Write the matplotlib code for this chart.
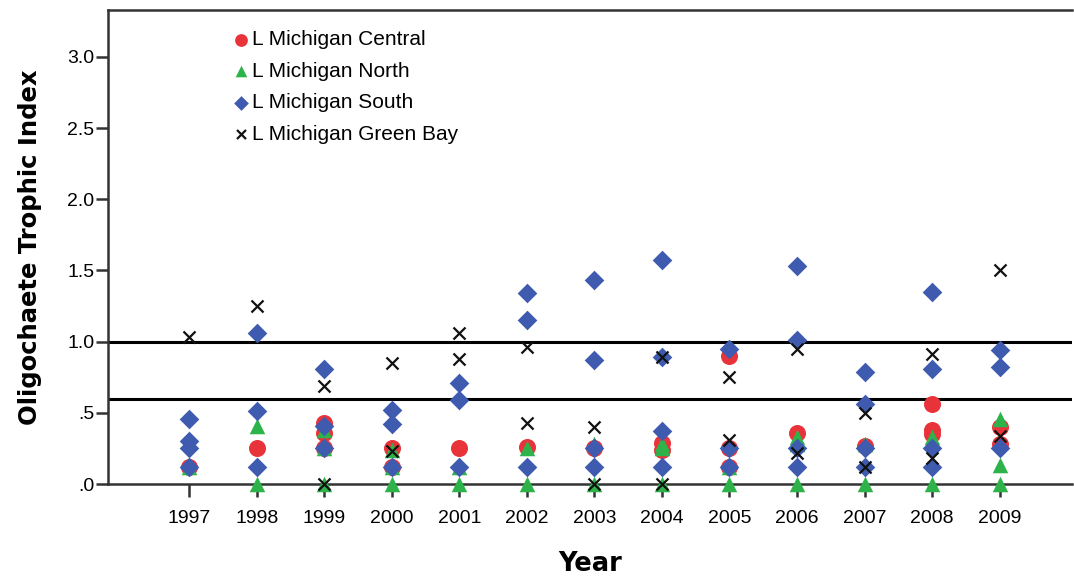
import matplotlib.pyplot as plt

anos = list(range(1997, 2010))

# L Michigan Central
central_ano = [1997, 1998, 1999, 1999, 1999, 2000, 2000, 2001, 2002, 2003, 2004, 2004,
               2005, 2005, 2005, 2006, 2007, 2008, 2008, 2008, 2009, 2009]
central_val = [0.12, 0.25, 0.43, 0.36, 0.25, 0.25, 0.12, 0.25, 0.26, 0.25, 0.29, 0.24,
               0.90, 0.25, 0.12, 0.36, 0.27, 0.56, 0.38, 0.35, 0.40, 0.28]

# L Michigan North
north_ano = [1997, 1998, 1998, 1999, 1999, 1999, 2000, 2000, 2000, 2001, 2001, 2002, 2002,
             2003, 2003, 2004, 2004, 2004, 2005, 2005, 2006, 2006, 2006, 2007, 2007,
             2008, 2008, 2009, 2009, 2009]
north_val = [0.12, 0.41, 0.0, 0.38, 0.25, 0.0, 0.24, 0.12, 0.0, 0.12, 0.0, 0.25, 0.0,
             0.28, 0.0, 0.28, 0.25, 0.0, 0.12, 0.0, 0.33, 0.28, 0.0, 0.28, 0.0,
             0.33, 0.0, 0.46, 0.13, 0.0]

# L Michigan South
south_ano = [1997, 1997, 1997, 1997, 1998, 1998, 1998, 1999, 1999, 1999, 2000, 2000, 2000,
             2001, 2001, 2001, 2002, 2002, 2002, 2003, 2003, 2003, 2003,
             2004, 2004, 2004, 2004, 2005, 2005, 2005, 2006, 2006, 2006, 2006,
             2007, 2007, 2007, 2007, 2008, 2008, 2008, 2008, 2009, 2009, 2009]
south_val = [0.46, 0.30, 0.25, 0.12, 1.06, 0.51, 0.12, 0.81, 0.41, 0.25, 0.52, 0.42, 0.12,
             0.71, 0.59, 0.12, 1.34, 1.15, 0.12, 1.43, 0.87, 0.25, 0.12,
             1.57, 0.89, 0.37, 0.12, 0.95, 0.25, 0.12, 1.53, 1.01, 0.25, 0.12,
             0.79, 0.56, 0.25, 0.12, 1.35, 0.81, 0.25, 0.12, 0.94, 0.82, 0.25]

# L Michigan Green Bay
gb_ano = [1997, 1998, 1999, 1999, 2000, 2000, 2001, 2001, 2002, 2002, 2003, 2003,
          2004, 2004, 2005, 2005, 2006, 2006, 2007, 2007, 2008, 2008, 2009, 2009]
gb_val = [1.03, 1.25, 0.69, 0.0, 0.85, 0.23, 1.06, 0.88, 0.96, 0.43, 0.40, 0.0,
          0.89, 0.0, 0.75, 0.31, 0.95, 0.22, 0.50, 0.12, 0.91, 0.18, 1.50, 0.34]

yticks = [0, 0.5, 1.0, 1.5, 2.0, 2.5, 3.0]
yticklabels = [".0", ".5", "1.0", "1.5", "2.0", "2.5", "3.0"]
limites = [1.0, 0.6]

fig = plt.figure(figsize=(10.74, 5.83), dpi=100)
ax = fig.add_axes([0.1006, 0.1698, 0.8974, 0.8132])

ax.scatter(central_ano, central_val, s=150, marker="o", color="#E8333A", linewidths=0,
           label="L Michigan Central", zorder=3, clip_on=False)
ax.scatter(north_ano, north_val, s=125, marker="^", color="#2DB34A", linewidths=0,
           label="L Michigan North", zorder=4, clip_on=False)
ax.scatter(south_ano, south_val, s=100, marker="D", color="#3E5BB0", linewidths=0,
           label="L Michigan South", zorder=5, clip_on=False)
ax.scatter(gb_ano, gb_val, s=75, marker="x", color="#111111", linewidths=1.6,
           label="L Michigan Green Bay", zorder=6, clip_on=False)

for v in limites:
    ax.axhline(v, color="black", linewidth=2.2, zorder=2)

ax.set_xlim(1995.8, 2010.07)
ax.set_ylim(0, 3.33)
ax.set_xticks(anos)
ax.set_xticklabels([str(a) for a in anos], fontfamily="Liberation Sans", fontsize=14)
ax.set_yticks(yticks)
ax.set_yticklabels(yticklabels, fontfamily="Liberation Sans", fontsize=14)
ax.tick_params(direction="out", length=9, width=1.8, color="#333333")
ax.tick_params(axis="x", pad=10)
ax.tick_params(axis="y", pad=1)

ax.spines["right"].set_visible(False)
for lado in ["left", "top", "bottom"]:
    ax.spines[lado].set_linewidth(1.8)
    ax.spines[lado].set_color("#333333")

ax.set_xlabel("Year", fontsize=18.5, fontweight="bold", labelpad=17)
ax.set_ylabel("Oligochaete Trophic Index", fontsize=17.5, fontweight="bold", labelpad=18)

ax.legend(loc="upper left", bbox_to_anchor=(0.118, 0.975), frameon=False, markerscale=0.75,
          handletextpad=0.05, labelspacing=0.6, handlelength=1.0, borderaxespad=0,
          prop={"family": "Liberation Sans", "size": 15})

fig.savefig("out.png", dpi=100)
